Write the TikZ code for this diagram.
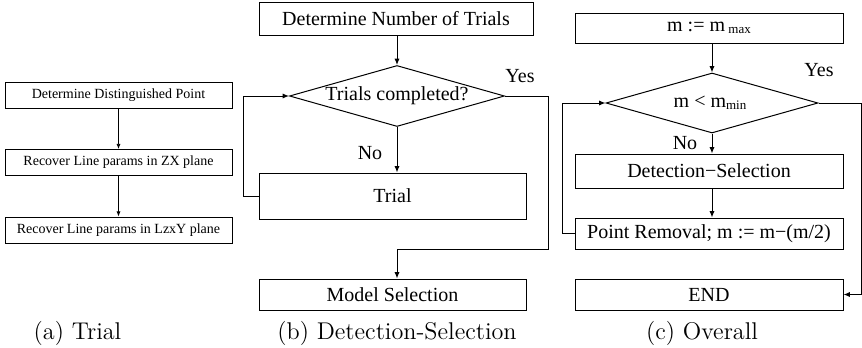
\documentclass[tikz,border=0pt]{standalone}
\usepackage{fontspec}
\newfontfamily\tnr{Liberation Serif}
\usetikzlibrary{shapes.geometric,arrows.meta}
\tikzset{
  box/.style={draw, line width=0.5pt, rectangle, inner sep=0pt, font=\tnr\fontsize{10}{12}\selectfont},
  sbox/.style={draw, line width=0.4pt, rectangle, inner sep=0pt, minimum width=113.5pt, minimum height=13pt, font=\tnr\fontsize{7}{8}\selectfont},
  dia/.style={draw, line width=0.5pt, diamond, inner sep=0pt},
  lbl/.style={font=\tnr\fontsize{10}{12}\selectfont, inner sep=0pt},
  captxt/.style={font=\fontsize{12.1}{14}\selectfont, inner sep=0pt},
  conn/.style={line width=0.5pt, -{Latex[length=3.2pt,width=2.6pt]}},
  sconn/.style={line width=0.4pt, -{Latex[length=2.6pt,width=2pt]}},
  plainline/.style={line width=0.5pt}
}
\newcommand{\lowsub}[1]{\raisebox{-0.25ex}{\fontsize{6.5}{7}\selectfont #1}}
\begin{document}
\begin{tikzpicture}[x=0.5pt,y=-0.5pt]
\useasboundingbox (0,0) rectangle (862,348);
% panel (a)
\node[sbox] (a1) at (118.5,95.5) {Determine Distinguished Point};
\node[sbox] (a2) at (118.5,162.5) {Recover Line params in ZX plane};
\node[sbox] (a3) at (118.5,230) {Recover Line params in LzxY plane};
\draw[sconn] (a1) -- (a2);
\draw[sconn] (a2) -- (a3);
\node[captxt] (capa) at (77.5,333) {(a) Trial};
% panel (b)
\node[box, minimum width=137pt, minimum height=16.5pt] (b1) at (396,18.5) {Determine Number of Trials};
\node[dia, minimum width=107.5pt, minimum height=30.5pt] (bd) at (397,96) {};
\node[lbl] (bdt) at (397,96) {Trials completed?};
\node[box, minimum width=133.5pt, minimum height=23pt] (b2) at (392.5,196) {Trial};
\node[box, minimum width=133.5pt, minimum height=15.5pt] (b3) at (392.5,294.5) {Model Selection};
\coordinate (bm) at (397,249);
\node[lbl] (byes) at (520,76) {Yes};
\node[lbl] (bno) at (370,153) {No};
\draw[conn] (b1.south -| bd.north) -- (bd.north);
\draw[conn] (bd.south) -- (bd.south |- b2.north);
\draw[conn] (b2.west) -- ++(-15,0) |- (bd.west);
\draw[plainline] (bd.east) -- (548,96) |- (bm);
\draw[conn] (bm) -- (bm |- b3.north);
\node[captxt] (capb) at (397,333) {(b) Detection-Selection};
% panel (c)
\node[box, minimum width=134pt, minimum height=15pt] (c1) at (709,28) {m := m\,\lowsub{max}};
\node[dia, minimum width=106pt, minimum height=30pt] (cd) at (712,103) {};
\node[lbl] (cdt) at (710,103) {m < m\lowsub{min}};
\node[box, minimum width=134pt, minimum height=17pt] (c2) at (709,171) {Detection−Selection};
\node[box, minimum width=134pt, minimum height=15.5pt] (c3) at (709,233.5) {Point Removal; m := m−(m/2)};
\node[box, minimum width=134pt, minimum height=15.5pt] (c4) at (709,294.5) {END};
\coordinate (cr) at (861,103);
\node[lbl] (cyes) at (819,70) {Yes};
\node[lbl] (cno) at (685,143) {No};
\draw[conn] (c1.south -| cd.north) -- (cd.north);
\draw[conn] (cd.south) -- (cd.south |- c2.north);
\draw[conn] (c2.south -| cd.north) -- (c3.north -| cd.north);
\draw[conn] (c3.west) -- (562,233.5) |- (cd.west);
\draw[conn] (cd.east) -- (cr) |- (c4.east);
\node[captxt] (capc) at (702,333) {(c) Overall};
\end{tikzpicture}
\end{document}
